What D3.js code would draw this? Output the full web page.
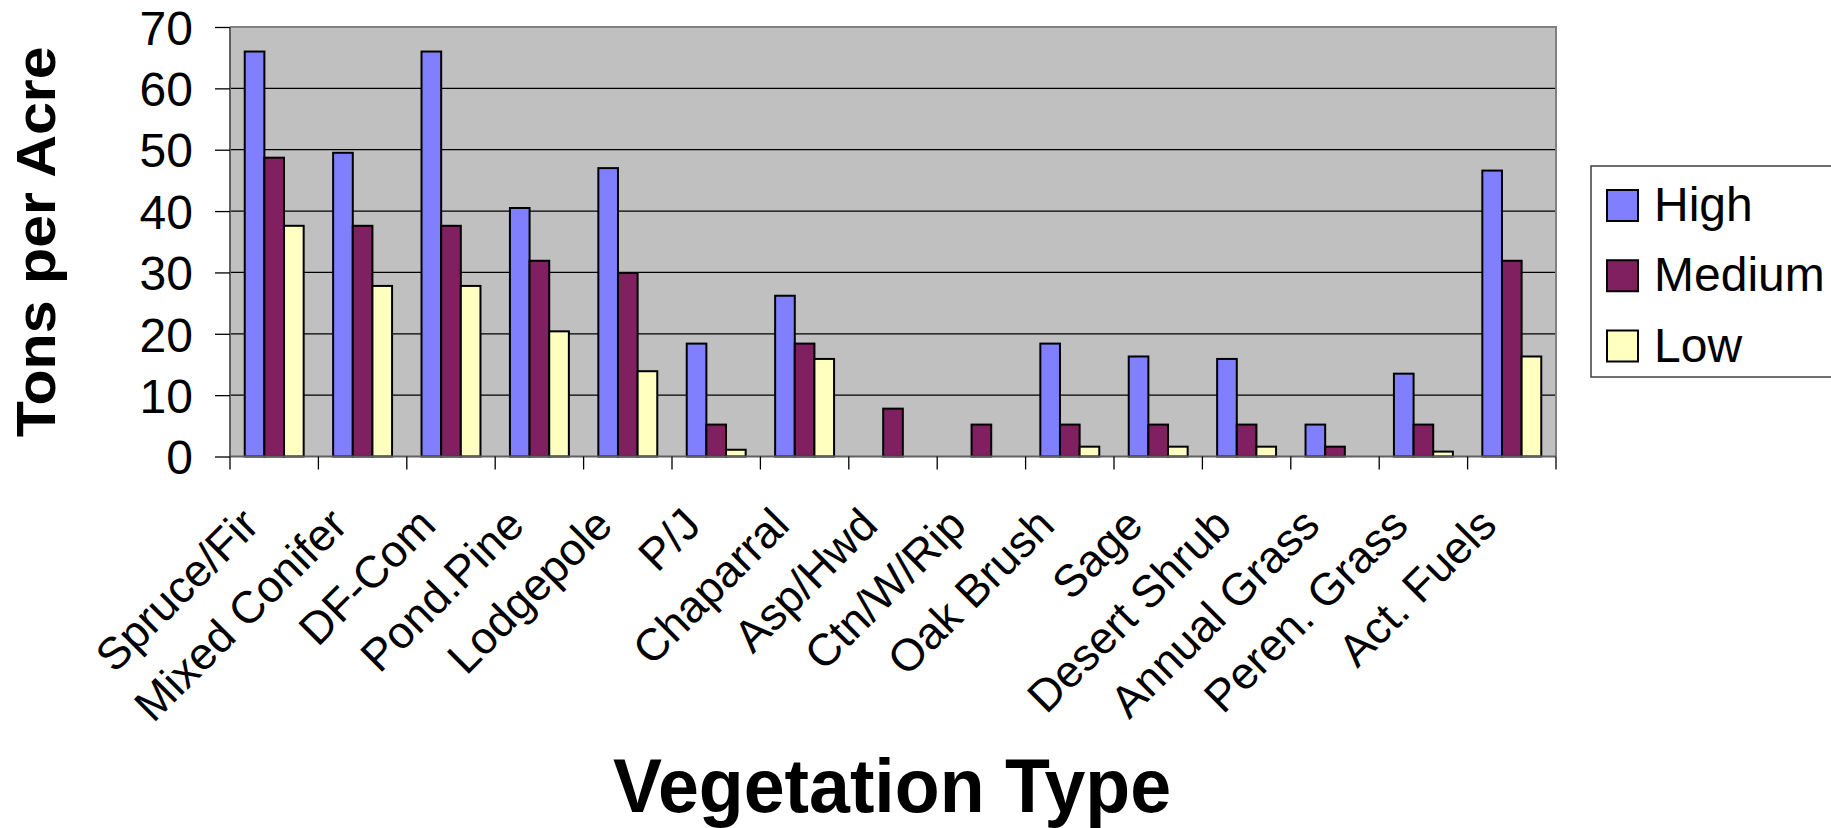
<!DOCTYPE html>
<html>
<head>
<meta charset="utf-8">
<script src="https://cdn.jsdelivr.net/npm/d3@7"></script>
<style>
  html, body { margin: 0; padding: 0; background: #fff; }
  svg { display: block; font-family: "Liberation Sans", Arial, sans-serif; }
</style>
</head>
<body>
<svg id="chart" width="1831" height="828"></svg>
<script>
const categories = ["Spruce/Fir","Mixed Conifer","DF-Com","Pond.Pine","Lodgepole","P/J","Chaparral","Asp/Hwd","Ctn/W/Rip","Oak Brush","Sage","Desert Shrub","Annual Grass","Peren. Grass","Act. Fuels"];
const seriesNames = ["High","Medium","Low"];
const high   = [66, 49.5, 66, 40.5, 47, 18.4, 26.2, 0, 0, 18.4, 16.3, 15.9, 5.2, 13.5, 46.6];
const medium = [48.7, 37.6, 37.6, 31.9, 29.9, 5.2, 18.4, 7.8, 5.2, 5.2, 5.2, 5.2, 1.6, 5.2, 31.9];
const low    = [37.6, 27.8, 27.8, 20.4, 13.9, 1.1, 15.9, 0, 0, 1.6, 1.6, 1.6, 0, 0.8, 16.3];
const yTicks = [0, 10, 20, 30, 40, 50, 60, 70];
const colors = ["#8080FF", "#802060", "#FFFFC0"];
const seriesValues = [high, medium, low];

const svg = d3.select("#chart");
const plot = {left: 230, right: 1556, top: 27, bottom: 456.5};

const x0 = d3.scaleBand().domain(categories).range([plot.left, plot.right]).padding(0);
const x1 = d3.scaleBand().domain(seriesNames).range([0, x0.bandwidth()]).paddingInner(0).paddingOuter(0.75);
const y = d3.scaleLinear().domain([0, 70]).range([plot.bottom, plot.top]);

// plot background
svg.append("rect")
  .attr("x", plot.left).attr("y", plot.top)
  .attr("width", plot.right - plot.left).attr("height", plot.bottom - plot.top)
  .attr("fill", "#C0C0C0");

// gridlines
svg.append("g").selectAll("line").data(yTicks.filter(d => d > 0 && d < 70)).join("line")
  .attr("x1", plot.left).attr("x2", plot.right)
  .attr("y1", d => y(d)).attr("y2", d => y(d))
  .attr("stroke", "#000").attr("stroke-width", 1.3);

// plot border top/right
svg.append("path")
  .attr("d", `M${plot.left},${plot.top}H${plot.right}V${plot.bottom}`)
  .attr("fill", "none").attr("stroke", "#808080").attr("stroke-width", 2);

// bars
const rows = categories.map((c, i) => ({cat: c, vals: seriesNames.map((s, j) => ({s, j, v: seriesValues[j][i]}))}));
const g = svg.append("g");
rows.forEach(r => {
  g.selectAll(null).data(r.vals.filter(d => d.v > 0)).join("rect")
    .attr("x", d => x0(r.cat) + x1(d.s))
    .attr("y", d => y(d.v))
    .attr("width", x1.bandwidth())
    .attr("height", d => y(0) - y(d.v))
    .attr("fill", d => colors[d.j])
    .attr("stroke", "#000").attr("stroke-width", 2);
});

// y axis
const yAxis = d3.axisLeft(y).tickValues(yTicks).tickSize(15).tickPadding(22).tickFormat(d3.format("d"));
const ya = svg.append("g").attr("transform", `translate(${plot.left},0)`).call(yAxis);
ya.select(".domain").attr("stroke", "#606060").attr("stroke-width", 2).attr("d", `M0,${plot.top}V${plot.bottom}`);
ya.selectAll(".tick line").attr("stroke", "#000").attr("stroke-width", 1.3);
ya.selectAll(".tick text").attr("font-size", 48).attr("fill", "#000").attr("dy", "0.36em")
  .attr("font-family", "Liberation Sans, Arial, sans-serif");

// x axis line
svg.append("line").attr("x1", plot.left).attr("x2", plot.right)
  .attr("y1", plot.bottom).attr("y2", plot.bottom)
  .attr("stroke", "#606060").attr("stroke-width", 2);

// x tick marks at band boundaries
const boundaries = categories.map(c => x0(c)).concat([plot.right]);
svg.append("g").selectAll("line").data(boundaries).join("line")
  .attr("x1", d => d).attr("x2", d => d)
  .attr("y1", plot.bottom).attr("y2", plot.bottom + 13)
  .attr("stroke", "#000").attr("stroke-width", 1.3);

// x labels
svg.append("g").selectAll("text").data(categories).join("text")
  .attr("transform", d => `translate(${x0(d) + x0.bandwidth() / 2 - 13},${plot.bottom + 71}) rotate(-45)`)
  .attr("text-anchor", "end")
  .attr("font-size", 45)
  .attr("fill", "#000")
  .text(d => d);

// axis titles
svg.append("text")
  .attr("transform", `translate(55,${(plot.top + plot.bottom) / 2}) rotate(-90)`)
  .attr("text-anchor", "middle")
  .attr("font-size", 56).attr("font-weight", "bold")
  .attr("textLength", 391).attr("lengthAdjust", "spacingAndGlyphs")
  .text("Tons per Acre");

svg.append("text")
  .attr("x", 892).attr("y", 812)
  .attr("text-anchor", "middle")
  .attr("font-size", 76).attr("font-weight", "bold")
  .attr("textLength", 558).attr("lengthAdjust", "spacingAndGlyphs")
  .text("Vegetation Type");

// legend
const lg = svg.append("g");
lg.append("rect").attr("x", 1591).attr("y", 166).attr("width", 280).attr("height", 211)
  .attr("fill", "#fff").attr("stroke", "#404040").attr("stroke-width", 1.5);
const legendY = d3.scalePoint().domain(seriesNames).range([205.5, 346]);
seriesNames.forEach((s, j) => {
  lg.append("rect").attr("x", 1607).attr("y", legendY(s) - 15.5).attr("width", 31).attr("height", 31)
    .attr("fill", colors[j]).attr("stroke", "#000").attr("stroke-width", 2);
  lg.append("text").attr("x", 1654).attr("y", legendY(s) + 15.5)
    .attr("font-size", 48).attr("fill", "#000").text(s);
});
</script>
</body>
</html>
